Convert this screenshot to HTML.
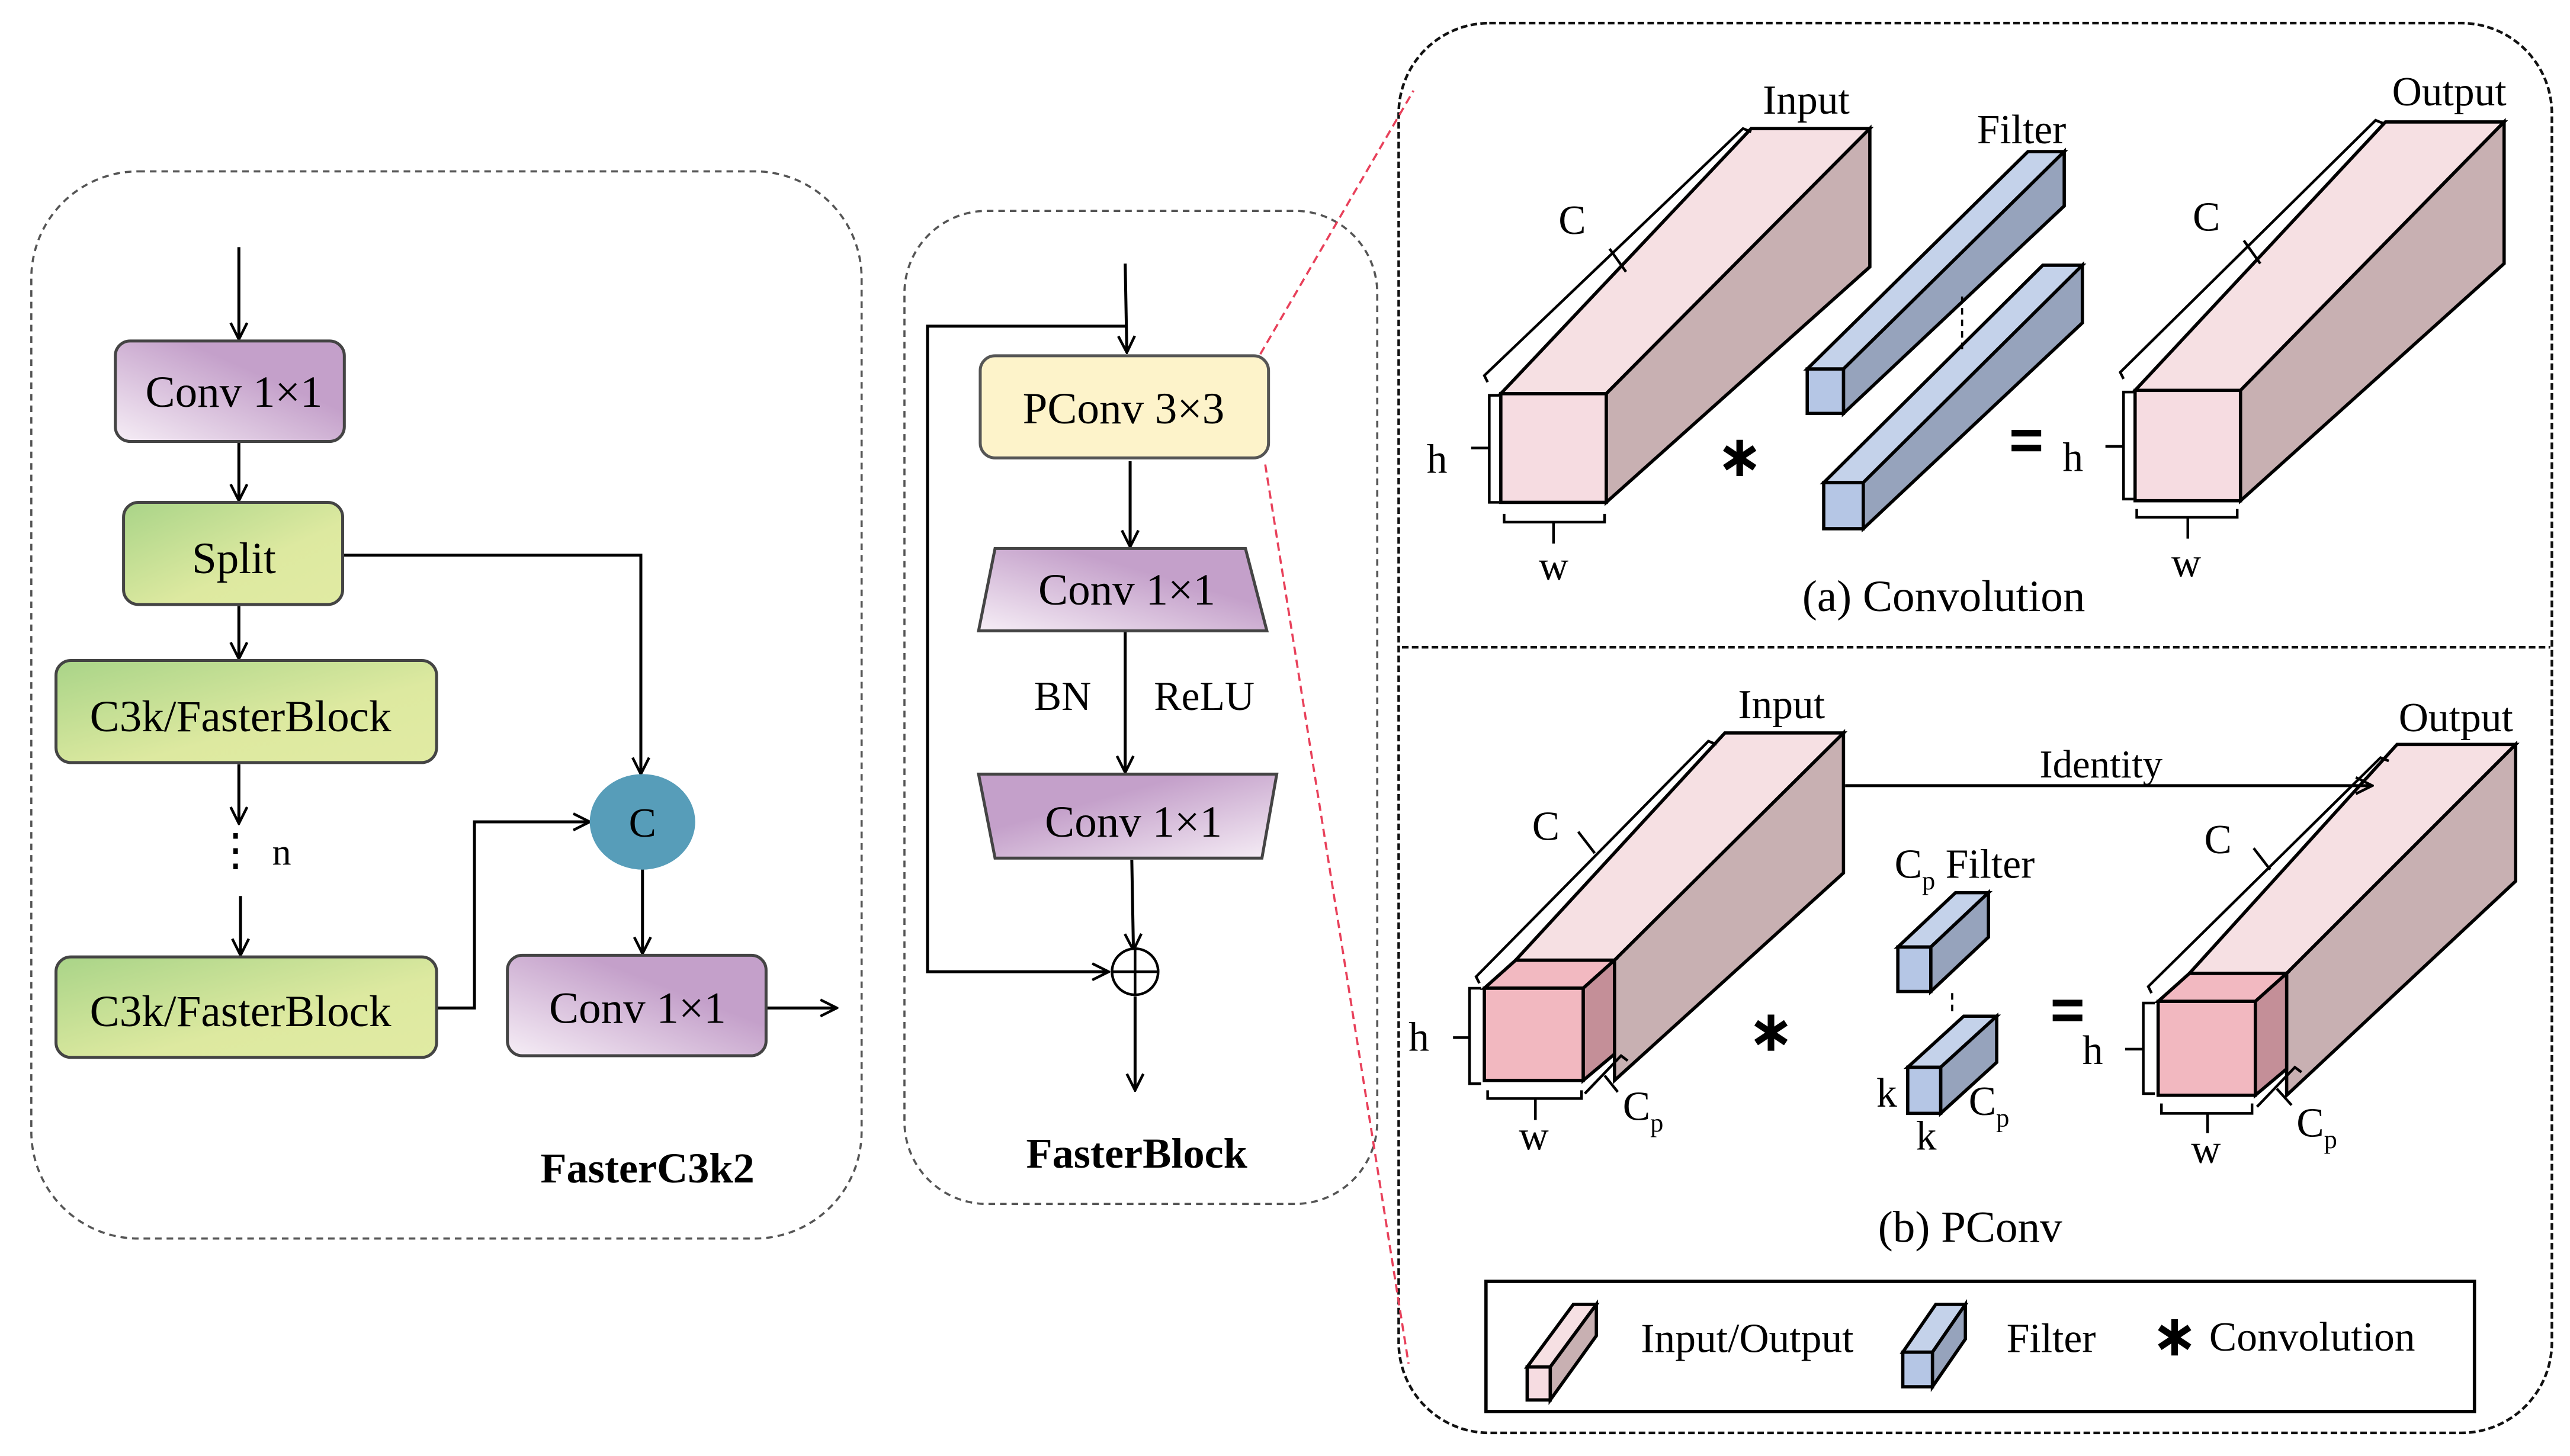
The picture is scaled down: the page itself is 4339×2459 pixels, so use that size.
<!DOCTYPE html>
<html><head><meta charset="utf-8"><style>html,body{margin:0;padding:0;background:#fff}svg{display:block}</style></head>
<body>
<svg width="4339" height="2459" viewBox="0 0 1560 884" xmlns="http://www.w3.org/2000/svg" font-family="'Liberation Serif', serif">
<defs>
<linearGradient id="pur" x1="0" y1="1" x2="1" y2="0"><stop offset="0" stop-color="#f6eef6"/><stop offset="0.65" stop-color="#c4a0ca"/><stop offset="1" stop-color="#c4a0ca"/></linearGradient>
<linearGradient id="purR" x1="1" y1="1" x2="0" y2="0"><stop offset="0" stop-color="#f6eef6"/><stop offset="0.65" stop-color="#c4a0ca"/><stop offset="1" stop-color="#c4a0ca"/></linearGradient>
<linearGradient id="grn" x1="0" y1="0" x2="1" y2="1"><stop offset="0" stop-color="#a9d488"/><stop offset="0.6" stop-color="#dde9a0"/><stop offset="1" stop-color="#e1eba3"/></linearGradient>
<marker id="ar" viewBox="0 0 12 12" refX="11" refY="6" markerWidth="12" markerHeight="12" markerUnits="userSpaceOnUse" orient="auto"><path d="M1,1 L11,6 L1,11" fill="none" stroke="#000" stroke-width="1.6"/></marker>
<g id="ast" stroke="#000" stroke-width="4"><line x1="0" y1="-11" x2="0" y2="11"/><line x1="-9" y1="-6" x2="9" y2="6"/><line x1="-9" y1="6" x2="9" y2="-6"/></g>
</defs>
<g fill="none" stroke="#555" stroke-width="1.3" stroke-dasharray="4,3">
<rect x="19" y="104" width="504" height="648" rx="65"/>
<rect x="549" y="128" width="287" height="603" rx="50"/>
</g>
<g fill="none" stroke="#111" stroke-width="1.6" stroke-dasharray="4,2">
<rect x="849" y="14" width="700" height="856" rx="55"/>
<line x1="851" y1="393" x2="1548" y2="393"/>
</g>
<g stroke="#e8405a" stroke-width="1.3" stroke-dasharray="5,3">
<line x1="765" y1="215" x2="858" y2="55"/>
<line x1="768" y1="282" x2="855" y2="828"/>
</g>
<!-- Left panel -->
<g stroke="#000" stroke-width="1.8" fill="none" marker-end="url(#ar)">
<line x1="145" y1="150" x2="145" y2="206"/>
<line x1="145" y1="268" x2="145" y2="304"/>
<line x1="145" y1="368" x2="145" y2="400"/>
<line x1="145" y1="464" x2="145" y2="500"/>
<line x1="146" y1="544" x2="146" y2="580"/>
<polyline points="208,337 389,337 389,470"/>
<polyline points="265,612 288,612 288,499 358,499"/>
<line x1="390" y1="525" x2="390" y2="579"/>
<line x1="465" y1="612" x2="508" y2="612"/>
</g>
<rect x="70" y="207" width="139" height="61" rx="9" fill="url(#pur)" stroke="#444" stroke-width="1.8"/>
<rect x="75" y="305" width="133" height="62" rx="9" fill="url(#grn)" stroke="#444" stroke-width="1.8"/>
<rect x="34" y="401" width="231" height="62" rx="9" fill="url(#grn)" stroke="#444" stroke-width="1.8"/>
<rect x="34" y="581" width="231" height="61" rx="9" fill="url(#grn)" stroke="#444" stroke-width="1.8"/>
<rect x="308" y="580" width="157" height="61" rx="9" fill="url(#pur)" stroke="#444" stroke-width="1.8"/>
<ellipse cx="390" cy="499" rx="32" ry="29" fill="#579db9"/>
<g font-size="27" text-anchor="middle" fill="#000">
<text x="142" y="247">Conv 1×1</text>
<text x="142" y="348">Split</text>
<text x="146" y="444">C3k/FasterBlock</text>
<text x="146" y="623">C3k/FasterBlock</text>
<text x="387" y="621">Conv 1×1</text>
<text x="390" y="508" font-size="25">C</text>
<text x="143" y="525">⋮</text>
<text x="171" y="525" font-size="23">n</text>
<text x="393" y="718" font-weight="bold" font-size="26">FasterC3k2</text>
</g>
<!-- Middle panel -->
<g stroke="#000" stroke-width="1.8" fill="none" marker-end="url(#ar)">
<line x1="683" y1="160" x2="684" y2="214"/>
<line x1="686" y1="280" x2="686" y2="332"/>
<line x1="683" y1="383" x2="683" y2="469"/>
<line x1="687" y1="522" x2="688" y2="577"/>
<polyline points="683,198 563,198 563,590 673,590"/>
<line x1="689" y1="605" x2="689" y2="662"/>
</g>
<circle cx="689" cy="590" r="14" fill="#fff" stroke="#000" stroke-width="1.6"/>
<line x1="675" y1="590" x2="703" y2="590" stroke="#000" stroke-width="1.6"/>
<line x1="689" y1="576" x2="689" y2="604" stroke="#000" stroke-width="1.6"/>
<rect x="595" y="216" width="175" height="62" rx="9" fill="#fdf3ca" stroke="#555" stroke-width="1.8"/>
<polygon points="604,333 756,333 769,383 594,383" fill="url(#pur)" stroke="#444" stroke-width="1.8"/>
<polygon points="594,470 775,470 766,521 604,521" fill="url(#purR)" stroke="#444" stroke-width="1.8"/>
<g font-size="27" text-anchor="middle" fill="#000">
<text x="682" y="257">PConv 3×3</text>
<text x="684" y="367">Conv 1×1</text>
<text x="688" y="508">Conv 1×1</text>
<text x="645" y="431" font-size="25">BN</text>
<text x="731" y="431" font-size="25">ReLU</text>
<text x="690" y="709" font-weight="bold" font-size="26">FasterBlock</text>
</g>
<!-- (a) Convolution -->
<g stroke="#000" stroke-width="2">
<polygon points="911,239 1063,78 1135,78 975,239" fill="#f6e0e3"/>
<polygon points="975,239 1135,78 1135,162 975,305" fill="#c8b0b2"/>
<rect x="911" y="239" width="64" height="66" fill="#f6dce1"/>
<polygon points="1296,237 1448,74 1520,74 1360,237" fill="#f6e0e3"/>
<polygon points="1360,237 1520,74 1520,160 1360,304" fill="#c8b0b2"/>
<rect x="1296" y="237" width="64" height="67" fill="#f6dce1"/>
<polygon points="1097,224 1231,92 1253,92 1119,224" fill="#c4d2ea"/>
<polygon points="1119,224 1253,92 1253,125 1119,251" fill="#96a3bc"/>
<rect x="1097" y="224" width="22" height="27" fill="#b5c6e5"/>
<polygon points="1107,293 1240,161 1264,161 1131,293" fill="#c4d2ea"/>
<polygon points="1131,293 1264,161 1264,196 1131,321" fill="#96a3bc"/>
<rect x="1107" y="293" width="24" height="28" fill="#b5c6e5"/>
</g>
<line x1="1191" y1="180" x2="1191" y2="212" stroke="#000" stroke-width="1.3" stroke-dasharray="4,3"/>
<g stroke="#000" stroke-width="1.6" fill="none">
<polyline points="903,232 901,228 1058,78 1063,80"/>
<line x1="977" y1="151" x2="987" y2="165"/>
<polyline points="910,240 904,240 904,305 910,305"/><line x1="893" y1="272" x2="904" y2="272"/>
<polyline points="913,312 913,317 974,317 974,312"/><line x1="943" y1="317" x2="943" y2="330"/>
<polyline points="1289,230 1287,226 1442,73 1447,75"/>
<line x1="1362" y1="146" x2="1372" y2="160"/>
<polyline points="1295,238 1289,238 1289,303 1295,303"/><line x1="1278" y1="271" x2="1289" y2="271"/>
<polyline points="1297,309 1297,314 1358,314 1358,309"/><line x1="1328" y1="314" x2="1328" y2="327"/>
</g>
<g font-size="25" fill="#000">
<text x="1070" y="69">Input</text>
<text x="1200" y="87">Filter</text>
<text x="1452" y="64">Output</text>
<text x="946" y="142">C</text>
<text x="1331" y="140">C</text>
<text x="866" y="287">h</text>
<text x="1252" y="286">h</text>
<text x="934" y="352">w</text>
<text x="1318" y="350">w</text>
<text x="1094" y="371" font-size="27">(a) Convolution</text>
</g>
<use href="#ast" x="1056" y="278"/>
<rect x="1221" y="261" width="18" height="4" fill="#000"/><rect x="1221" y="270" width="18" height="4" fill="#000"/>
<!-- (b) PConv -->
<g stroke="#000" stroke-width="2">
<polygon points="920,583 1047,445 1119,445 980,583" fill="#f6e0e3"/>
<polygon points="980,583 1119,445 1119,530 980,656" fill="#c8b0b2"/>
<polygon points="901,600 920,583 980,583 961,600" fill="#f2b9c1"/>
<polygon points="961,600 980,583 980,640 961,656" fill="#c48f98"/>
<rect x="901" y="600" width="60" height="56" fill="#f2b8c0"/>
<polygon points="1329,591 1455,452 1527,452 1388,591" fill="#f6e0e3"/>
<polygon points="1388,591 1527,452 1527,535 1388,665" fill="#c8b0b2"/>
<polygon points="1310,608 1329,591 1388,591 1369,608" fill="#f2b9c1"/>
<polygon points="1369,608 1388,591 1388,649 1369,665" fill="#c48f98"/>
<rect x="1310" y="608" width="59" height="57" fill="#f2b8c0"/>
<polygon points="1152,575 1187,542 1207,542 1172,575" fill="#c4d2ea"/>
<polygon points="1172,575 1207,542 1207,569 1172,602" fill="#96a3bc"/>
<rect x="1152" y="575" width="20" height="27" fill="#b5c6e5"/>
<polygon points="1158,648 1192,617 1212,617 1178,648" fill="#c4d2ea"/>
<polygon points="1178,648 1212,617 1212,645 1178,676" fill="#96a3bc"/>
<rect x="1158" y="648" width="20" height="28" fill="#b5c6e5"/>
</g>
<line x1="1185" y1="603" x2="1185" y2="616" stroke="#000" stroke-width="1.3" stroke-dasharray="4,3"/>
<line x1="1120" y1="477" x2="1440" y2="477" stroke="#000" stroke-width="1.8" marker-end="url(#ar)"/>
<g stroke="#000" stroke-width="1.6" fill="none">
<polyline points="898,597 896,593 1037,450 1042,452"/>
<line x1="958" y1="505" x2="968" y2="518"/>
<polyline points="899,600 892,600 892,658 899,658"/><line x1="882" y1="630" x2="892" y2="630"/>
<polyline points="903,662 903,667 960,667 960,662"/><line x1="932" y1="667" x2="932" y2="680"/>
<polyline points="962,664 984,641 988,644"/><line x1="974" y1="653" x2="982" y2="663"/>
<polyline points="1306,603 1304,599 1445,460 1450,462"/>
<line x1="1368" y1="515" x2="1378" y2="528"/>
<polyline points="1308,609 1301,609 1301,664 1308,664"/><line x1="1290" y1="637" x2="1301" y2="637"/>
<polyline points="1312,670 1312,676 1367,676 1367,670"/><line x1="1340" y1="676" x2="1340" y2="688"/>
<polyline points="1370,672 1393,648 1397,651"/><line x1="1382" y1="661" x2="1391" y2="671"/>
</g>
<g font-size="25" fill="#000">
<text x="1055" y="436">Input</text>
<text x="1456" y="444">Output</text>
<text x="1238" y="472" font-size="24">Identity</text>
<text x="930" y="510">C</text>
<text x="1338" y="518">C</text>
<text x="855" y="638">h</text>
<text x="1264" y="646">h</text>
<text x="922" y="698">w</text>
<text x="1330" y="706">w</text>
<text x="985" y="680">C<tspan font-size="16" dy="7">p</tspan></text>
<text x="1394" y="690">C<tspan font-size="16" dy="7">p</tspan></text>
<text x="1150" y="533">C<tspan font-size="16" dy="7">p</tspan><tspan dy="-7"> Filter</tspan></text>
<text x="1139" y="672">k</text>
<text x="1163" y="698">k</text>
<text x="1195" y="677">C<tspan font-size="16" dy="7">p</tspan></text>
<text x="1140" y="754" font-size="27">(b) PConv</text>
</g>
<use href="#ast" x="1075" y="627"/>
<rect x="1246" y="607" width="18" height="4" fill="#000"/><rect x="1246" y="616" width="18" height="4" fill="#000"/>
<!-- Legend -->
<rect x="902" y="778" width="600" height="79" fill="#fff" stroke="#000" stroke-width="2"/>
<g stroke="#000" stroke-width="2">
<polygon points="927,830 955,792 969,792 941,830" fill="#f6e0e3"/>
<polygon points="941,830 969,792 969,811 941,850" fill="#c8b0b2"/>
<rect x="927" y="830" width="14" height="20" fill="#f6dce1"/>
<polygon points="1155,821 1175,792 1193,792 1173,821" fill="#c4d2ea"/>
<polygon points="1173,821 1193,792 1193,813 1173,842" fill="#96a3bc"/>
<rect x="1155" y="821" width="18" height="21" fill="#b5c6e5"/>
</g>
<g font-size="25" fill="#000">
<text x="996" y="821">Input/Output</text>
<text x="1218" y="821">Filter</text>
<text x="1341" y="820">Convolution</text>
</g>
<use href="#ast" x="1320" y="812"/>
</svg>
</body></html>
